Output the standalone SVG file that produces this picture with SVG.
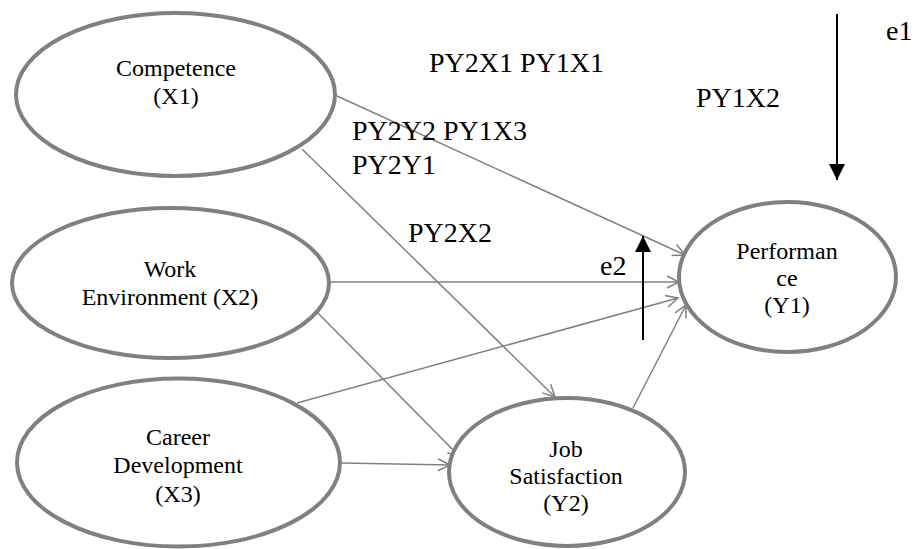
<svg xmlns="http://www.w3.org/2000/svg" width="914" height="549" viewBox="0 0 914 549">
<style>
.node ellipse{fill:#fff;stroke:#808080;stroke-width:4}
text{font-family:'Liberation Serif','Times New Roman',Times,serif;fill:#000}
.nt{font-size:24px;text-anchor:middle}
.lbl{font-size:28px}
.conn{stroke:#808080;stroke-width:1.5;fill:none;marker-end:url(#open)}
.err{stroke:#000;stroke-width:2;fill:none;marker-end:url(#solid)}
</style>
<defs>
<marker id="open" markerUnits="userSpaceOnUse" markerWidth="16" markerHeight="16" viewBox="0 0 16 16" refX="14" refY="8" orient="auto">
<path d="M2,2 L14,8 L2,14" fill="none" stroke="#808080" stroke-width="1.5"/>
</marker>
<marker id="solid" markerUnits="userSpaceOnUse" markerWidth="16" markerHeight="16" viewBox="0 0 16 16" refX="16" refY="8" orient="auto">
<path d="M0,0 L16,8 L0,16 z" fill="#000"/>
</marker>
</defs>
<rect width="914" height="549" fill="#fff"/>
<g id="connectors">
<line class="conn" x1="337" y1="96" x2="685" y2="255"/>
<line class="conn" x1="329" y1="282" x2="679" y2="282"/>
<line class="conn" x1="297" y1="403" x2="678" y2="298"/>
<line class="conn" x1="633" y1="408" x2="686" y2="305"/>
<line class="conn" x1="302" y1="149" x2="555" y2="397"/>
<line class="conn" x1="312" y1="307" x2="460" y2="457"/>
<line class="conn" x1="342" y1="463" x2="450" y2="465"/>
<line class="err" x1="837" y1="14" x2="837" y2="180"/>
<line class="err" x1="643" y1="340" x2="643" y2="236"/>
</g>
<g id="competence" class="node">
<ellipse cx="175.5" cy="94.5" rx="159.5" ry="81.5"/>
<text class="nt" x="176" y="76">Competence</text>
<text class="nt" x="176" y="104">(X1)</text>
</g>
<g id="work-environment" class="node">
<ellipse cx="170.5" cy="283" rx="158.5" ry="75"/>
<text class="nt" x="170" y="277">Work</text>
<text class="nt" x="170" y="305">Environment (X2)</text>
</g>
<g id="career-development" class="node">
<ellipse cx="178.5" cy="462.5" rx="161.5" ry="84"/>
<text class="nt" x="178" y="445">Career</text>
<text class="nt" x="178" y="473">Development</text>
<text class="nt" x="178" y="502">(X3)</text>
</g>
<g id="job-satisfaction" class="node">
<ellipse cx="567" cy="472" rx="118" ry="74"/>
<text class="nt" x="566" y="457">Job</text>
<text class="nt" x="566" y="484">Satisfaction</text>
<text class="nt" x="566" y="511">(Y2)</text>
</g>
<g id="performance" class="node">
<ellipse cx="787.5" cy="277" rx="108.5" ry="75"/>
<text class="nt" x="787" y="259">Performan</text>
<text class="nt" x="787" y="286">ce</text>
<text class="nt" x="787" y="313">(Y1)</text>
</g>
<g id="labels">
<text class="lbl" x="429" y="72">PY2X1 PY1X1</text>
<text class="lbl" x="696" y="107">PY1X2</text>
<text class="lbl" x="352" y="140">PY2Y2 PY1X3</text>
<text class="lbl" x="352" y="174">PY2Y1</text>
<text class="lbl" x="408" y="242">PY2X2</text>
<text class="lbl" x="886" y="40">e1</text>
<text class="lbl" x="600" y="275">e2</text>
</g>
</svg>
